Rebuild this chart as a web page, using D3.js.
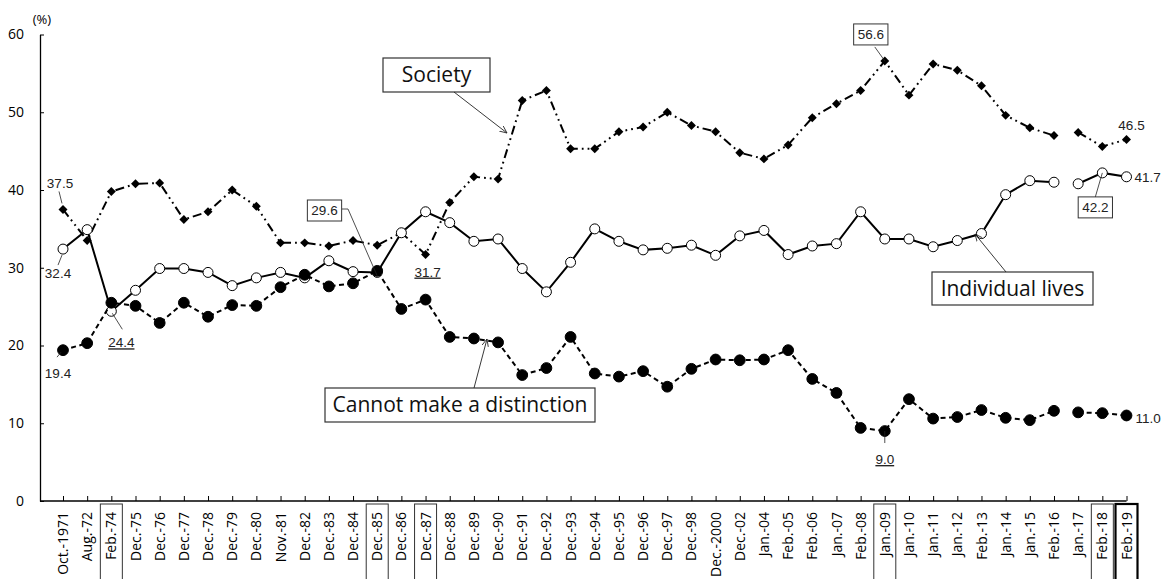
<!DOCTYPE html>
<html>
<head>
<meta charset="utf-8">
<script src="https://cdn.jsdelivr.net/npm/d3@7"></script>
<style>
  body { margin: 0; background: #fff; }
  svg { display: block; }
  .tick-x { font-family: "Open Sans", sans-serif; font-size: 14px; fill: #000; }
  .val { font-family: "Liberation Sans Narrow", "Liberation Sans", sans-serif; font-size: 13.5px; fill: #222; }
  .callout { font-family: "Open Sans", sans-serif; font-size: 21px; fill: #111; }
</style>
</head>
<body>
<div id="chart"></div>
<script>
var categories = ["Oct.-1971", "Aug.-72", "Feb.-74", "Dec.-75", "Dec.-76", "Dec.-77", "Dec.-78", "Dec.-79",
  "Dec.-80", "Nov.-81", "Dec.-82", "Dec.-83", "Dec.-84", "Dec.-85", "Dec.-86", "Dec.-87", "Dec.-88",
  "Dec.-89", "Dec.-90", "Dec.-91", "Dec.-92", "Dec.-93", "Dec.-94", "Dec.-95", "Dec.-96", "Dec.-97",
  "Dec.-98", "Dec.-2000", "Dec.-02", "Jan.-04", "Feb.-05", "Feb.-06", "Jan.-07", "Feb.-08", "Jan.-09",
  "Jan.-10", "Jan.-11", "Jan.-12", "Feb.-13", "Jan.-14", "Jan.-15", "Feb.-16", "Jan.-17", "Feb.-18", "Feb.-19"];

var society = [37.5, 33.5, 39.8, 40.8, 40.9, 36.2, 37.2, 40.0, 37.9, 33.2,
  33.2, 32.8, 33.5, 32.9, 34.5, 31.7, 38.4, 41.7, 41.4, 51.5,
  52.8, 45.3, 45.3, 47.5, 48.1, 50.0, 48.3, 47.5, 44.8, 44.0,
  45.8, 49.3, 51.1, 52.8, 56.6, 52.2, 56.2, 55.4, 53.4, 49.6,
  48.0, 47.0, 47.4, 45.6, 46.5];

var individual = [32.4, 34.9, 24.4, 27.1, 29.9, 29.9, 29.4, 27.7, 28.7, 29.4,
  28.7, 30.9, 29.5, 29.4, 34.5, 37.2, 35.8, 33.4, 33.7, 29.9,
  26.9, 30.7, 35.0, 33.4, 32.3, 32.5, 32.9, 31.6, 34.1, 34.8,
  31.7, 32.8, 33.1, 37.2, 33.7, 33.7, 32.7, 33.5, 34.4, 39.4,
  41.2, 41.0, 40.8, 42.2, 41.7];

var cannot = [19.4, 20.3, 25.5, 25.1, 22.9, 25.5, 23.7, 25.2, 25.1, 27.5,
  29.1, 27.6, 28.0, 29.6, 24.7, 25.9, 21.1, 20.9, 20.4, 16.2,
  17.1, 21.1, 16.4, 16.0, 16.7, 14.7, 17.0, 18.2, 18.1, 18.2,
  19.4, 15.7, 13.9, 9.4, 9.0, 13.1, 10.6, 10.8, 11.7, 10.7,
  10.4, 11.6, 11.4, 11.3, 11.0];

var yTicks = [0, 10, 20, 30, 40, 50, 60];
var boxedCategories = ["Feb.-74", "Dec.-85", "Dec.-87", "Jan.-09", "Feb.-18", "Feb.-19"];
var breakAfter = "Feb.-16";   // survey method change: lines are not joined across it

var width = 1167, height = 579;
var axisLeftX = 40, axisBottomY = 501;

var svg = d3.select('#chart').append('svg')
  .attr('width', width).attr('height', height);

var x = d3.scalePoint().domain(categories).range([63, 1126.5]);
var y = d3.scaleLinear().domain([0, 60]).range([axisBottomY, 34.5]);

// arrow head for the callouts
svg.append('defs').append('marker')
  .attr('id', 'arrow')
  .attr('viewBox', '0 0 10 10')
  .attr('refX', 9).attr('refY', 5)
  .attr('markerWidth', 9).attr('markerHeight', 9)
  .attr('orient', 'auto')
  .append('path')
  .attr('d', 'M0,1 L9,5 L0,9')
  .attr('fill', 'none').attr('stroke', '#222').attr('stroke-width', 1);

// y axis
var yAxis = svg.append('g')
  .attr('transform', `translate(${axisLeftX},0)`)
  .call(d3.axisLeft(y).tickValues(yTicks).tickSizeInner(-4).tickSizeOuter(0).tickPadding(16));
yAxis.select('.domain').attr('stroke', '#000').attr('stroke-width', 1.3);
yAxis.selectAll('.tick line').attr('stroke', '#000');
yAxis.selectAll('.tick text')
  .style('font-family', '"Open Sans", sans-serif').style('font-size', '14px').attr('fill', '#000');

svg.append('text')
  .attr('x', 42).attr('y', 24)
  .attr('text-anchor', 'middle')
  .style('font-family', '"Open Sans", sans-serif').style('font-size', '13px')
  .text('(%)');

// x axis
var xAxis = svg.append('g')
  .attr('transform', `translate(0,${axisBottomY})`)
  .call(d3.axisBottom(x).tickSizeInner(-5).tickSizeOuter(0).tickFormat(''));
xAxis.select('.domain').remove();
xAxis.selectAll('.tick line').attr('stroke', '#000');
svg.append('line')
  .attr('x1', axisLeftX).attr('x2', x(categories[categories.length - 1]))
  .attr('y1', axisBottomY).attr('y2', axisBottomY)
  .attr('stroke', '#000').attr('stroke-width', 1.3);

svg.append('g').selectAll('rect')
  .data(boxedCategories)
  .enter().append('rect')
  .attr('x', d => x(d) - 11)
  .attr('y', 504)
  .attr('width', 22)
  .attr('height', 90)
  .attr('fill', 'none')
  .attr('stroke', d => d === 'Feb.-19' ? '#000' : '#333')
  .attr('stroke-width', d => d === 'Feb.-19' ? 2.2 : 1);

svg.append('g').selectAll('text')
  .data(categories)
  .enter().append('text')
  .attr('class', 'tick-x')
  .attr('transform', d => `translate(${x(d)},512) rotate(-90)`)
  .attr('text-anchor', 'end')
  .attr('dy', '0.36em')
  .text(d => d);

// split each series at the method change
var cut = categories.indexOf(breakAfter) + 1;
function pieces(values) {
  var pts = values.map((v, i) => ({ cat: categories[i], v: v }));
  return [pts.slice(0, cut), pts.slice(cut)];
}
var line = d3.line().x(d => x(d.cat)).y(d => y(d.v));

var series = [
  { key: 'society', values: society, dash: '9,4,1.8,4,1.8,4' },
  { key: 'individual', values: individual, dash: null },
  { key: 'cannot', values: cannot, dash: '5,3.5' }
];

series.forEach(function (s) {
  var g = svg.append('g').attr('class', s.key);
  g.selectAll('path.ln')
    .data(pieces(s.values))
    .enter().append('path')
    .attr('class', 'ln')
    .attr('d', line)
    .attr('fill', 'none')
    .attr('stroke', '#000')
    .attr('stroke-width', 2)
    .attr('stroke-dasharray', s.dash);

  var pts = s.values.map((v, i) => ({ cat: categories[i], v: v }));
  if (s.key === 'society') {
    // square turned 45 degrees, as Excel draws its diamond marker
    g.selectAll('path.mk')
      .data(pts)
      .enter().append('path')
      .attr('class', 'mk')
      .attr('d', d3.symbol(d3.symbolSquare, 40))
      .attr('transform', d => `translate(${x(d.cat)},${y(d.v)}) rotate(45)`)
      .attr('fill', '#000');
  } else {
    g.selectAll('circle')
      .data(pts)
      .enter().append('circle')
      .attr('cx', d => x(d.cat))
      .attr('cy', d => y(d.v))
      .attr('r', s.key === 'cannot' ? 5.4 : 5)
      .attr('fill', s.key === 'cannot' ? '#000' : '#fff')
      .attr('stroke', '#000')
      .attr('stroke-width', 1);
  }
});

// value labels
function val(arr, cat) { return arr[categories.indexOf(cat)]; }
var ann = svg.append('g');

function leader(points) {
  ann.append('path')
    .attr('d', d3.line()(points))
    .attr('fill', 'none').attr('stroke', '#222').attr('stroke-width', 0.8);
}
function label(tx, ty, text, opts) {
  opts = opts || {};
  var t = ann.append('text')
    .attr('class', 'val')
    .attr('x', tx).attr('y', ty)
    .attr('text-anchor', opts.anchor || 'middle')
    .text(text);
  if (opts.underline) t.attr('text-decoration', 'underline');
  if (opts.box) {
    var bb = t.node().getBBox();
    ann.insert('rect', 'text')
      .attr('x', bb.x - 4).attr('y', bb.y - 3)
      .attr('width', bb.width + 8).attr('height', bb.height + 6)
      .attr('fill', '#fff').attr('stroke', '#333').attr('stroke-width', 1);
  }
  return t;
}

var px, py;
// 37.5 society first
px = x('Oct.-1971'); py = y(val(society, 'Oct.-1971'));
leader([[px - 4, py - 18], [px - 1, py - 6]]);
label(px - 3, py - 21, d3.format('.1f')(val(society, 'Oct.-1971')));
// 32.4 individual first
py = y(val(individual, 'Oct.-1971'));
leader([[px - 1, py + 6], [px - 5, py + 16]]);
label(px - 5, py + 29, d3.format('.1f')(val(individual, 'Oct.-1971')));
// 19.4 cannot first
py = y(val(cannot, 'Oct.-1971'));
leader([[px - 2, py + 2], [px - 6, py + 7]]);
label(px - 5, py + 28, d3.format('.1f')(val(cannot, 'Oct.-1971')));
// 24.4 individual Feb.-74 (lowest)
px = x('Feb.-74'); py = y(val(individual, 'Feb.-74'));
leader([[px + 1, py + 2], [px + 11, py + 18]]);
label(px + 10, py + 36, d3.format('.1f')(val(individual, 'Feb.-74')), { underline: true });
// 31.7 society Dec.-87 (lowest)
px = x('Dec.-87'); py = y(val(society, 'Dec.-87'));
label(px + 2, py + 22, d3.format('.1f')(val(society, 'Dec.-87')), { underline: true });
// 29.6 cannot Dec.-85 (highest)
px = x('Dec.-85'); py = y(val(cannot, 'Dec.-85'));
leader([[342, 209], [348, 209], [px, py + 5]]);
label(324.5, 215, d3.format('.1f')(val(cannot, 'Dec.-85')), { box: true });
// 56.6 society Jan.-09 (highest)
px = x('Jan.-09'); py = y(val(society, 'Jan.-09'));
leader([[px - 10, py - 14], [px, py]]);
label(px - 14, py - 22, d3.format('.1f')(val(society, 'Jan.-09')), { box: true });
// 42.2 individual Feb.-18 (highest)
px = x('Feb.-18'); py = y(val(individual, 'Feb.-18'));
leader([[px, py], [px - 7, py + 24]]);
label(px - 7, py + 39, d3.format('.1f')(val(individual, 'Feb.-18')), { box: true });
// 9.0 cannot Jan.-09 (lowest)
px = x('Jan.-09'); py = y(val(cannot, 'Jan.-09'));
leader([[px, py], [px, py + 12]]);
label(px, py + 33, d3.format('.1f')(val(cannot, 'Jan.-09')), { underline: true });
// latest values
px = x('Feb.-19');
label(px + 5, y(val(society, 'Feb.-19')) - 9, d3.format('.1f')(val(society, 'Feb.-19')));
label(px + 8, y(val(individual, 'Feb.-19')) + 5, d3.format('.1f')(val(individual, 'Feb.-19')), { anchor: 'start' });
label(px + 9, y(val(cannot, 'Feb.-19')) + 8, d3.format('.1f')(val(cannot, 'Feb.-19')), { anchor: 'start' });

// callouts
function callout(bx, by, bw, bh, text, from, to) {
  ann.append('rect')
    .attr('x', bx).attr('y', by).attr('width', bw).attr('height', bh)
    .attr('fill', '#fff').attr('stroke', '#333').attr('stroke-width', 1.2);
  ann.append('text')
    .attr('class', 'callout')
    .attr('x', bx + bw / 2).attr('y', by + bh / 2)
    .attr('dy', '0.35em')
    .attr('text-anchor', 'middle')
    .text(text);
  ann.append('line')
    .attr('x1', from[0]).attr('y1', from[1]).attr('x2', to[0]).attr('y2', to[1])
    .attr('stroke', '#222').attr('stroke-width', 0.9)
    .attr('marker-end', 'url(#arrow)');
}
callout(383, 58, 107, 34, 'Society', [454, 92], [507, 133]);
callout(325, 388, 270, 34, 'Cannot make a distinction', [474, 388], [487, 339]);
callout(932, 272, 161, 33, 'Individual lives', [1006, 272], [975, 234]);
</script>
</body>
</html>
